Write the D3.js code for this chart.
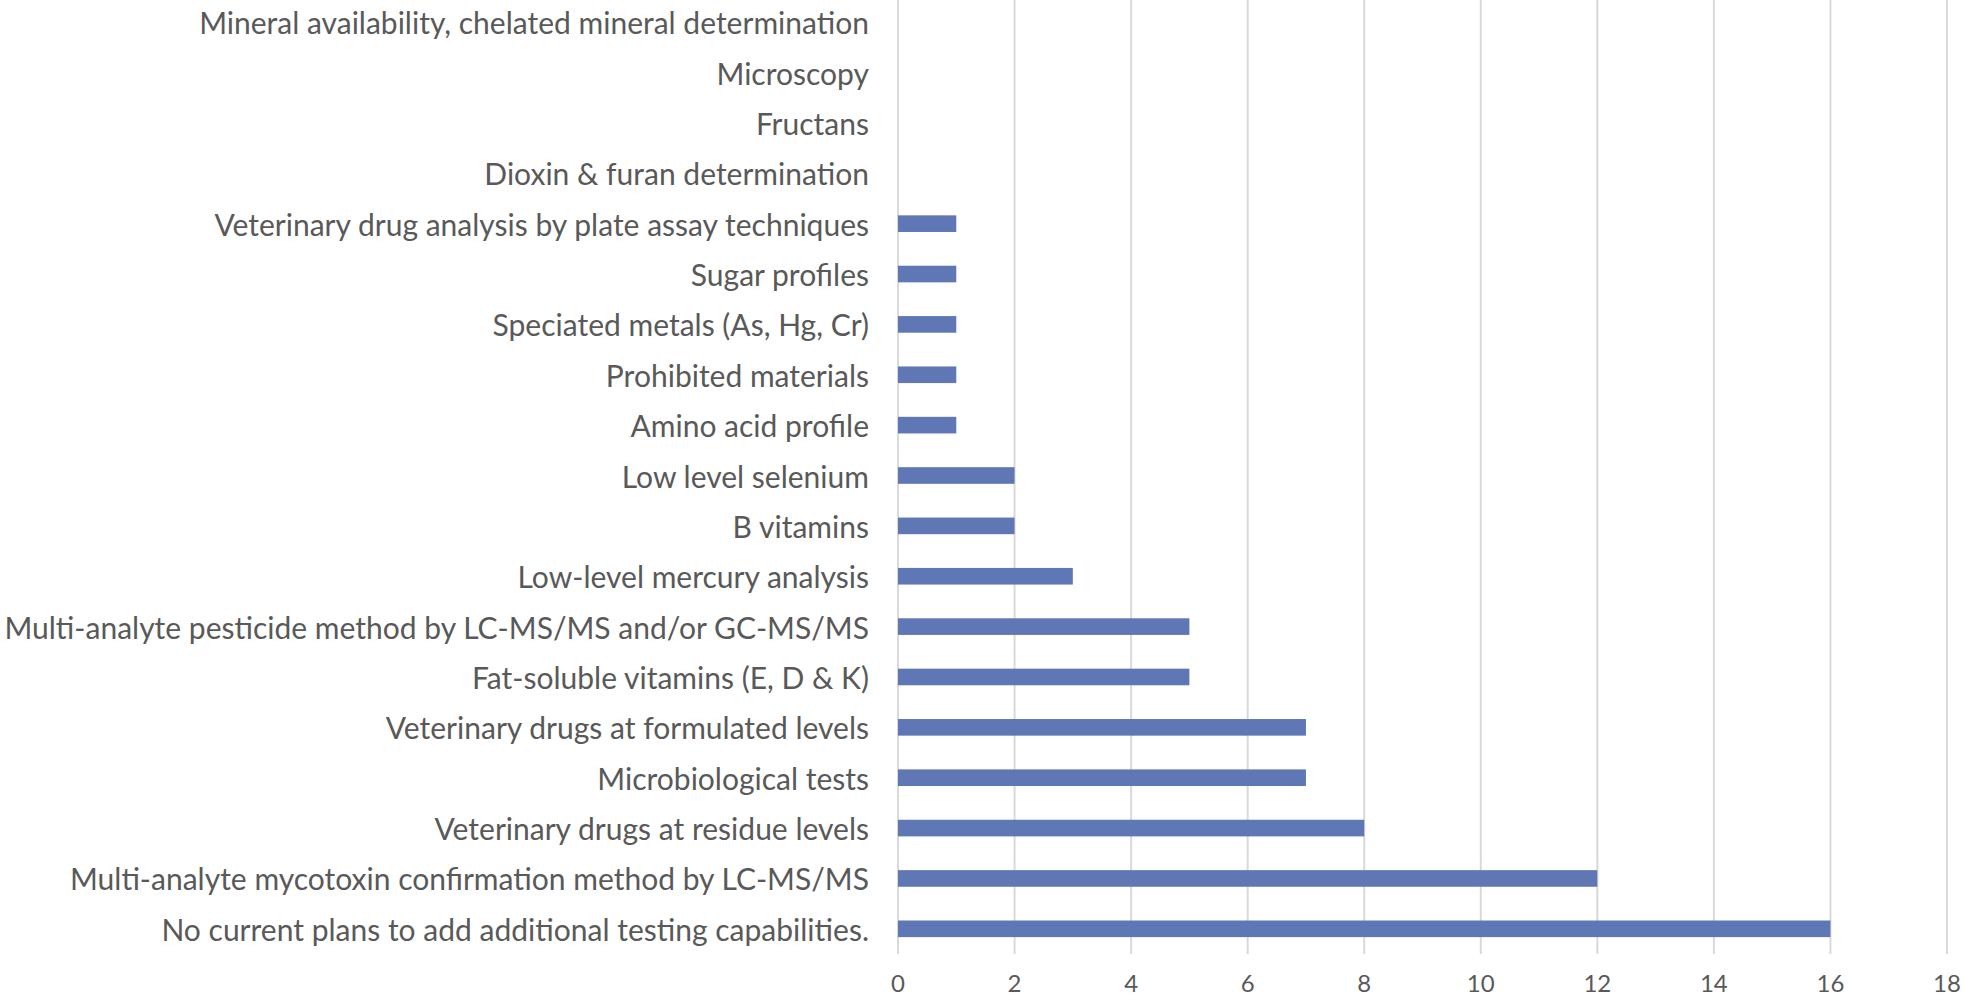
<!DOCTYPE html>
<html>
<head>
<meta charset="utf-8">
<script src="https://cdn.jsdelivr.net/npm/d3@7"></script>
<style>
  body { margin: 0; background: #fff; }
  svg { display: block; }
</style>
</head>
<body>
<div id="chart"></div>
<script>
// Données, de haut en bas
var categories = [
  "Mineral availability, chelated mineral determination",
  "Microscopy",
  "Fructans",
  "Dioxin & furan determination",
  "Veterinary drug analysis by plate assay techniques",
  "Sugar profiles",
  "Speciated metals (As, Hg, Cr)",
  "Prohibited materials",
  "Amino acid profile",
  "Low level selenium",
  "B vitamins",
  "Low-level mercury analysis",
  "Multi-analyte pesticide method by LC-MS/MS and/or GC-MS/MS",
  "Fat-soluble vitamins (E, D & K)",
  "Veterinary drugs at formulated levels",
  "Microbiological tests",
  "Veterinary drugs at residue levels",
  "Multi-analyte mycotoxin confirmation method by LC-MS/MS",
  "No current plans to add additional testing capabilities."
]
var counts = [0, 0, 0, 0, 1, 1, 1, 1, 1, 2, 2, 3, 5, 5, 7, 7, 8, 12, 16]
var xTicks = [0, 2, 4, 6, 8, 10, 12, 14, 16, 18]

var width = 1964
var height = 997

// Zone du graphique
var plotLeft = 898, plotRight = 1947
var plotTop = -3, plotBottom = 954

const svg = d3.select("#chart")
  .append("svg")
    .attr("width", width)
    .attr("height", height)

const x = d3.scaleLinear()
  .domain([0, 18])
  .range([plotLeft, plotRight])

const y = d3.scaleBand()
  .domain(categories)
  .range([plotTop, plotBottom])
  .paddingInner(0.67)
  .paddingOuter(0.335)

// Lignes verticales de la grille
svg.append("g")
  .selectAll("line")
  .data(xTicks)
  .join("line")
    .attr("x1", d => x(d))
    .attr("x2", d => x(d))
    .attr("y1", 0)
    .attr("y2", plotBottom)
    .attr("stroke", "#d9d9d9")
    .attr("stroke-width", 2)

// Barres
svg.append("g")
  .selectAll("rect")
  .data(counts)
  .join("rect")
    .attr("x", x(0))
    .attr("y", (d, i) => y(categories[i]))
    .attr("width", d => x(d) - x(0))
    .attr("height", y.bandwidth())
    .attr("fill", "#6077b6")

// Étiquettes des catégories
var labels = svg.append("g")
  .selectAll("text")
  .data(categories)
  .join("text")
    .attr("x", 869)
    .attr("y", d => y(d) + y.bandwidth() / 2)
    .attr("text-anchor", "end")
    .attr("dominant-baseline", "central")
    .style("font-family", "Lato, 'Open Sans', sans-serif")
    .style("font-size", "32px")
    .style("fill", "#595959")
    .text(d => d)

// Ajuste la taille pour que le libellé le plus long tienne dans la même largeur
var maxW = d3.max(labels.nodes(), n => n.getComputedTextLength())
labels.style("font-size", (32 * 865 / maxW) + "px")

// Étiquettes de l'axe x
svg.append("g")
  .selectAll("text")
  .data(xTicks)
  .join("text")
    .attr("x", d => x(d))
    .attr("y", 982)
    .attr("text-anchor", "middle")
    .attr("dominant-baseline", "central")
    .style("font-family", "Lato, 'Open Sans', sans-serif")
    .style("font-size", "24px")
    .style("fill", "#595959")
    .text(d => d)
</script>
</body>
</html>
